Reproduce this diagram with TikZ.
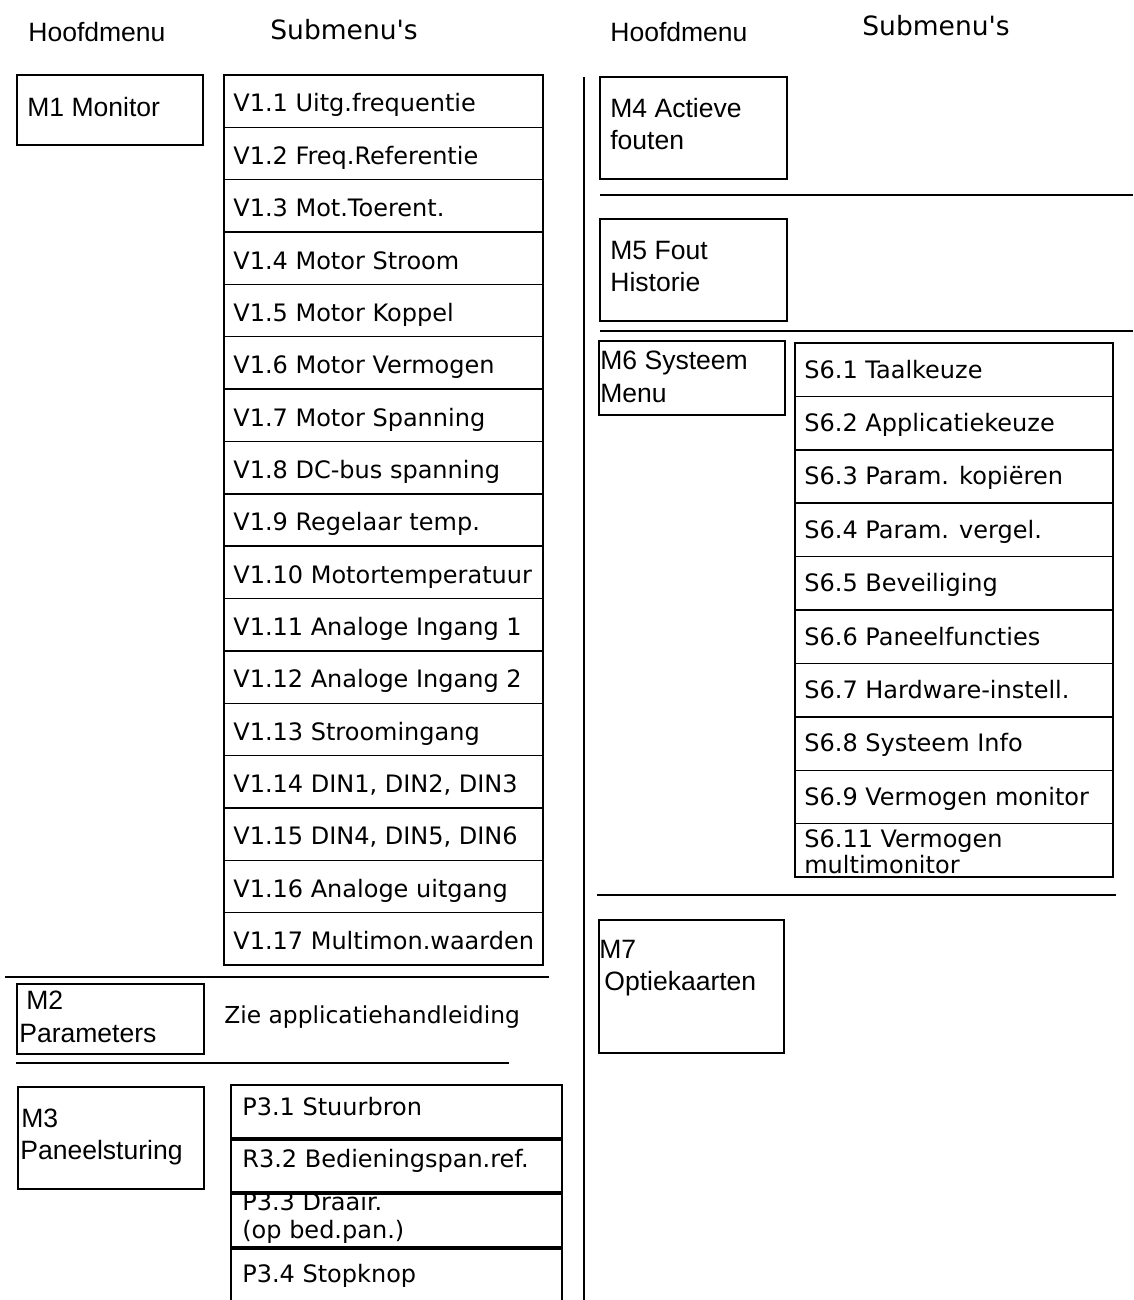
\documentclass[tikz,border=0pt]{standalone}
\usepackage{fontspec}
\setmainfont{Liberation Sans}
\newfontfamily\itemfont{DejaVu Sans}
\usetikzlibrary{fit}
\begin{document}
\begin{tikzpicture}[x=0.02cm,y=-0.02cm,
  frame/.style={draw, line width=0.8pt, inner sep=0pt},
  rule/.style={line width=0.8pt},
  menu/.style={font=\fontsize{15.1}{18}\selectfont, anchor=base west, inner sep=0pt},
  head/.style={font=\itemfont\fontsize{15.1}{18}\selectfont, anchor=base west, inner sep=0pt},
  item/.style={font=\itemfont\fontsize{13.66}{16}\selectfont, anchor=base west, inner sep=0pt}]
\useasboundingbox (0,0) rectangle (1133,1300);
\clip (0,0) rectangle (1133,1300);

% column headers
\node[menu] (hl) at (28,42) {Hoofdmenu};
\node[head] (sl) at (270,40) {Submenu's};
\node[menu] (hr) at (610,42) {Hoofdmenu};
\node[head] (sr) at (862,36) {Submenu's};

% M1 with its monitor values
\node[frame, fit={(17,75) (203,145)}] (m1) {};
\node[menu] (m1t) at (27,117) {M1 Monitor};
\foreach \i/\t in {1/{V1.1 Uitg.frequentie},2/{V1.2 Freq.Referentie},3/{V1.3 Mot.Toerent.},
  4/{V1.4 Motor Stroom},5/{V1.5 Motor Koppel},6/{V1.6 Motor Vermogen},7/{V1.7 Motor Spanning},
  8/{V1.8 DC-bus spanning},9/{V1.9 Regelaar temp.},10/{V1.10 Motortemperatuur},
  11/{V1.11 Analoge Ingang 1},12/{V1.12 Analoge Ingang 2},13/{V1.13 Stroomingang},
  14/{V1.14 DIN1, DIN2, DIN3},15/{V1.15 DIN4, DIN5, DIN6},16/{V1.16 Analoge uitgang},
  17/{V1.17 Multimon.waarden}}{
  \pgfmathsetmacro\ytop{75+(\i-1)*52.35}
  \node[frame, fit={(224,\ytop) (543,\ytop+52.35)}] (v\i) {};
  \node[item] (vt\i) at (233,\ytop+37) {\t};
}
\draw[rule] (5,977) -- (549,977);

% M2
\node[frame, fit={(17,984) (204,1054)}] (m2) {};
\node[menu] (m2a) at (26,1009) {M2};
\node[menu] (m2b) at (19,1042) {Parameters};
\node[item, font=\itemfont\fontsize{13.3}{16}\selectfont] (zie) at (224,1023) {Zie applicatiehandleiding};
\draw[rule] (16,1063) -- (509,1063);

% M3 with its panel items
\node[frame, fit={(18,1087) (204,1189)}] (m3) {};
\node[menu] (m3a) at (21,1127) {M3};
\node[menu] (m3b) at (20,1159) {Paneelsturing};
\node[frame, fit={(231,1085) (562,1138)}] (p1) {};
\node[frame, fit={(231,1140) (562,1192)}] (p2) {};
\node[frame, fit={(231,1194) (562,1247)}] (p3) {};
\node[frame, fit={(231,1249) (562,1320)}] (p4) {};
\node[item] (p1t) at (242,1115) {P3.1 Stuurbron};
\node[item] (p2t) at (242,1167) {R3.2 Bedieningspan.ref.};
\node[item] (p3a) at (242,1210) {P3.3 Draair.};
\node[item] (p3b) at (242,1238) {(op bed.pan.)};
\node[item] (p4t) at (242,1282) {P3.4 Stopknop};

% column divider
\draw[rule] (584,77) -- (584,1300);

% M4, M5
\node[frame, fit={(600,77) (787,179)}] (m4) {};
\node[menu] (m4a) at (610,118) {M4 Actieve};
\node[menu] (m4b) at (610,150) {fouten};
\draw[rule] (600,195) -- (1133,195);
\node[frame, fit={(600,219) (787,321)}] (m5) {};
\node[menu] (m5a) at (610,260) {M5 Fout};
\node[menu] (m5b) at (610,292) {Historie};
\draw[rule] (600,331) -- (1133,331);

% M6 with its system items
\node[frame, fit={(599,341) (785,415)}] (m6) {};
\node[menu] (m6a) at (600,370) {M6 Systeem};
\node[menu] (m6b) at (600,402) {Menu};
\foreach \i/\t in {1/{S6.1 Taalkeuze},2/{S6.2 Applicatiekeuze},3/{S6.3 Param. kopiëren},
  4/{S6.4 Param. vergel.},5/{S6.5 Beveiliging},6/{S6.6 Paneelfuncties},
  7/{S6.7 Hardware-instell.},8/{S6.8 Systeem Info},9/{S6.9 Vermogen monitor}}{
  \pgfmathsetmacro\ytop{343+(\i-1)*53.4}
  \node[frame, fit={(795,\ytop) (1113,\ytop+53.4)}] (s\i) {};
  \node[item] (st\i) at (804,\ytop+35) {\t};
}
\node[frame, fit={(795,823.6) (1113,877)}] (s11) {};
\node[item] (s11a) at (804,847) {S6.11 Vermogen};
\node[item] (s11b) at (804,873) {multimonitor};
\draw[rule] (597,895) -- (1116,895);

% M7
\node[frame, fit={(599,920) (784,1053)}] (m7) {};
\node[menu] (m7a) at (599,958) {M7};
\node[menu] (m7b) at (604,990) {Optiekaarten};
\end{tikzpicture}
\end{document}
